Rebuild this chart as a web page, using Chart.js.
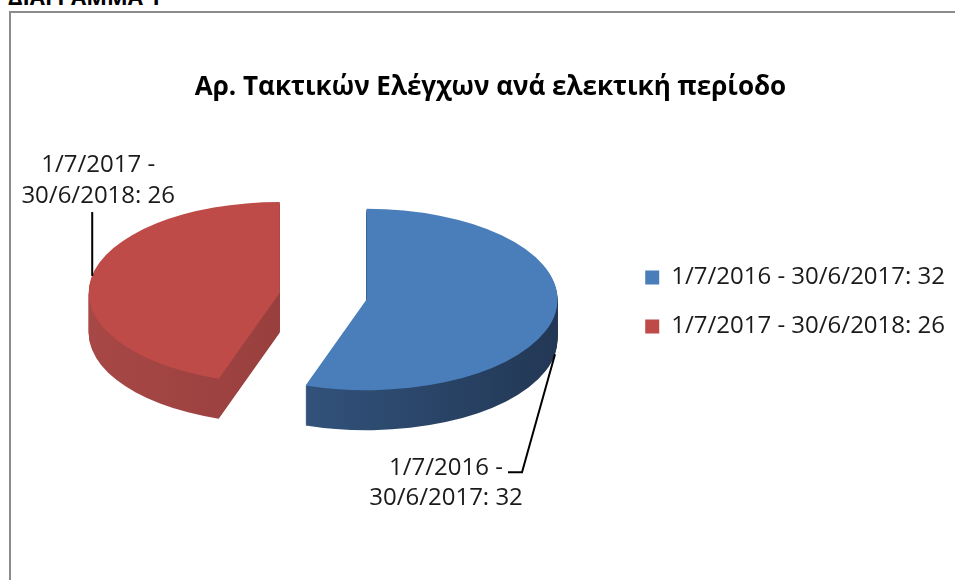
<!DOCTYPE html>
<html>
<head>
<meta charset="utf-8">
<script src="https://cdn.jsdelivr.net/npm/chart.js@4.4.1/dist/chart.umd.min.js"></script>
<style>
  body { margin: 0; background: #fff; overflow: hidden; }
  #heading { position: absolute; left: 8px; top: -19px; font: bold 22px "Open Sans", sans-serif; color: #000; }
  #frame { position: absolute; left: 9px; top: 11px; width: 1000px; height: 1000px; border: 2px solid #8c8c8c; }
  #cnvPie { position: absolute; left: 0; top: 0; }
</style>
</head>
<body>
<div id="heading">ΔΙΑΓΡΑΜΜΑ 1</div>
<div id="frame"></div>
<canvas id="cnvPie" width="955" height="580"></canvas>
<script>
var titulo = "Αρ. Τακτικών Ελέγχων ανά ελεκτική περίοδο";
var periodos = ["1/7/2016 - 30/6/2017", "1/7/2017 - 30/6/2018"];
var cantidades = [32, 26];
var colores = ["#4a7ebb", "#be4b48"];
var laterales = [["#3d6596", "#1f324d"], ["#ab4a48", "#863535"]];

var SQUASH = 0.475, DEPTH = 40, EXPLODE = 44;

function aplastar(ctx, arc){
	ctx.translate(0, arc.y);
	ctx.scale(1, SQUASH);
	ctx.translate(0, -arc.y);
}

function separar(arc){
	var half = (arc.startAngle + arc.endAngle) / 2;
	return {x: Math.cos(half) * EXPLODE, y: Math.sin(half) * EXPLODE, half: half};
}

function puntoBorde(arc){
	var s = separar(arc);
	return {
		x: arc.x + s.x + Math.cos(s.half) * arc.outerRadius,
		y: arc.y + (s.y + Math.sin(s.half) * arc.outerRadius) * SQUASH
	};
}

function dibujar(ctx, arc, color, dy){
	var s = separar(arc);
	var copia = Object.create(arc);
	copia.options = Object.assign({}, arc.options, {backgroundColor: color, borderWidth: 0});
	ctx.save();
	ctx.translate(0, dy);
	aplastar(ctx, arc);
	ctx.translate(s.x, s.y);
	copia.draw(ctx);
	ctx.restore();
}

var pie3d = {
	id: "pie3d",
	beforeDatasetsDraw: function(chart){
		var ctx = chart.ctx;
		var arcs = chart.getDatasetMeta(0).data;
		arcs.forEach(function(arc, i){
			var g = ctx.createLinearGradient(arc.x - arc.outerRadius - 50, 0, arc.x + arc.outerRadius + 50, 0);
			g.addColorStop(0, laterales[i][0]);
			g.addColorStop(1, laterales[i][1]);
			for (var d = DEPTH; d > 0; d--) dibujar(ctx, arc, g, d);
		});
		arcs.forEach(function(arc, i){
			dibujar(ctx, arc, arc.options.backgroundColor, 0);
		});

		ctx.save();
		ctx.strokeStyle = "#000";
		ctx.lineWidth = 2;
		ctx.fillStyle = "#1a1a1a";
		ctx.font = "24px 'Open Sans'";
		ctx.textAlign = "center";
		ctx.textBaseline = "middle";
		arcs.forEach(function(arc, i){
			var p = puntoBorde(arc);
			var partes = periodos[i].split(" - ");
			var l1 = partes[0] + " -", l2 = partes[1] + ": " + cantidades[i];
			ctx.beginPath();
			if (i === 0) {
				p.y += DEPTH;
				ctx.moveTo(p.x, p.y);
				ctx.lineTo(p.x - 33, p.y + 118);
				ctx.lineTo(p.x - 47, p.y + 118);
				ctx.stroke();
				ctx.fillText(l1, p.x - 109, p.y + 114);
				ctx.fillText(l2, p.x - 109, p.y + 144);
			} else {
				ctx.moveTo(p.x + 1, p.y - 2);
				ctx.lineTo(p.x + 1, p.y - 66);
				ctx.stroke();
				ctx.fillText(l1, p.x + 7, p.y - 113);
				ctx.fillText(l2, p.x + 7, p.y - 82);
			}
		});
		ctx.restore();
		return false;
	}
};

Chart.defaults.font.family = "'Open Sans', sans-serif";

new Chart(document.getElementById("cnvPie").getContext("2d"), {
	type: "pie",
	data: {
		labels: periodos,
		datasets: [{
			data: cantidades,
			backgroundColor: colores,
			borderWidth: 0,
			radius: 191
		}]
	},
	options: {
		responsive: false,
		animation: false,
		layout: { padding: { left: 26, right: 0, top: 0, bottom: 101 } },
		plugins: {
			title: {
				display: true,
				text: titulo,
				color: "#000",
				font: { size: 26, weight: "bold" },
				padding: { top: 72, bottom: 10 }
			},
			legend: {
				position: "right",
				fullSize: false,
				title: { display: true, text: "", font: { size: 10 }, padding: { top: 0, bottom: 0 } },
				labels: {
					color: "#1a1a1a",
					font: { size: 24 },
					boxWidth: 14,
					boxHeight: 14,
					padding: 25,
					generateLabels: function(chart){
						var items = Chart.overrides.pie.plugins.legend.labels.generateLabels(chart);
						items.forEach(function(it, i){
							it.text = it.text + ": " + cantidades[i];
							it.lineWidth = 0;
						});
						return items;
					}
				}
			},
			tooltip: { enabled: false }
		}
	},
	plugins: [pie3d]
});
</script>
</body>
</html>
